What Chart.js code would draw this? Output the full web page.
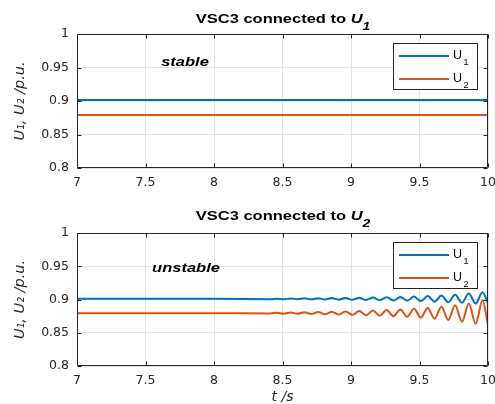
<!DOCTYPE html>
<html>
<head>
<meta charset="utf-8">
<script src="https://cdn.jsdelivr.net/npm/chart.js@4.4.1/dist/chart.umd.min.js"></script>
<style>
	html, body { margin: 0; padding: 0; background: #fff; }
	#page { position: relative; width: 495px; height: 404px; overflow: hidden; font-family: "Liberation Sans", Arial, sans-serif; color: #000; }
	.panel { position: absolute; left: 0; width: 495px; }
	.txt { position: absolute; white-space: nowrap; line-height: 1; }
	.title { font-weight: bold; font-size: 12.5px; transform: translateX(-50%) scaleX(1.32); }
	.title i { font-style: italic; }
	.title .sub { position: relative; top: 7px; font-size: 10.5px; font-style: italic; }
	.note { font-weight: bold; font-style: italic; font-size: 13px; transform: translateX(-50%) scaleX(1.27); }
	.legend { position: absolute; background: #fff; border: 1px solid #262626; box-sizing: border-box; }
	.legend .swatch { position: absolute; height: 2px; width: 50px; left: 5px; }
	.legend .lbl { position: absolute; font-size: 12.5px; line-height: 1; white-space: nowrap; color: #000; }
	.legend .lbl .sub { position: relative; top: 6px; font-size: 9px; margin-left: 1.5px; }
</style>
</head>
<body>
<div id="page">
	<div class="panel" style="top:0; height:200px;"><canvas id="chartTop"></canvas></div>
	<div class="panel" style="top:200px; height:204px;"><canvas id="chartBottom"></canvas></div>

	<div class="txt title" style="left:282.5px; top:12.7px;">VSC3 connected to <i>U</i><span class="sub">1</span></div>
	<div class="txt title" style="left:282.5px; top:209.9px;">VSC3 connected to <i>U</i><span class="sub">2</span></div>
	<div class="txt note" style="left:185px; top:55px;">stable</div>
	<div class="txt note" style="left:186px; top:260.5px;">unstable</div>
</div>

<script>
(() => {
	'use strict'

	// Axis ticks
	const xTicks = [7, 7.5, 8, 8.5, 9, 9.5, 10];
	const xTickLabels = ['7', '7.5', '8', '8.5', '9', '9.5', '10'];
	const yTicks = [0.8, 0.85, 0.9, 0.95, 1];
	const yTickLabels = ['0.8', '0.85', '0.9', '0.95', '1'];

	// Top panel: VSC3 connected to U1 (stable)
	const timeTop = [7, 10];
	const u1Top = [0.9015, 0.9015];
	const u2Top = [0.879, 0.879];

	// Bottom panel: VSC3 connected to U2 (unstable), peaks and troughs
	const timeBottom = [7, 8.0, 8.41, 8.46, 8.51, 8.56, 8.61, 8.66, 8.71, 8.76, 8.81, 8.86, 8.91, 8.96,
		9.01, 9.06, 9.11, 9.16, 9.21, 9.26, 9.31, 9.36, 9.41, 9.46, 9.51, 9.56, 9.61, 9.66, 9.71, 9.76,
		9.81, 9.86, 9.91, 9.96, 10];
	const u1Bottom = [0.901, 0.901, 0.9005, 0.9013, 0.9004, 0.9015, 0.9004, 0.9017, 0.9002, 0.9019, 0.9, 0.9021, 0.8998, 0.9024,
		0.8996, 0.9027, 0.8993, 0.903, 0.899, 0.9034, 0.8986, 0.9039, 0.8981, 0.9045, 0.8975, 0.9052, 0.8968, 0.906, 0.896, 0.907,
		0.895, 0.909, 0.894, 0.911, 0.894];
	const u2Bottom = [0.8795, 0.8795, 0.879, 0.8802, 0.8787, 0.8805, 0.8784, 0.8808, 0.8781, 0.8811, 0.8778, 0.8815, 0.8774, 0.882,
		0.877, 0.8826, 0.8764, 0.8833, 0.8757, 0.8841, 0.8749, 0.885, 0.874, 0.886, 0.8728, 0.8873, 0.8712, 0.889, 0.869, 0.8912,
		0.8665, 0.894, 0.8635, 0.899, 0.862];

	const seriesLabels = ['U_1', 'U_2'];
	const blueColor = '#0072BD';
	const orangeColor = '#D95319';
	const axisColor = '#262626';
	const gridColor = '#e2e2e2';

	const toPoints = (xs, ys) => xs.map((x, i) => ({ x: x, y: ys[i] }));

	// Axes box with inward tick marks on all four sides
	const boxPlugin = {
		id: 'boxTicks',
		afterDraw(chart) {
			const { ctx, chartArea: a, scales } = chart;
			const left = Math.round(a.left) + 0.5, right = Math.round(a.right) - 0.5;
			const top = Math.round(a.top) + 0.5, bottom = Math.round(a.bottom) - 0.5;
			ctx.save();
			ctx.strokeStyle = axisColor;
			ctx.lineWidth = 1;
			ctx.beginPath();
			scales.x.ticks.forEach(t => {
				const px = Math.round(scales.x.getPixelForValue(t.value)) + 0.5;
				ctx.moveTo(px, top); ctx.lineTo(px, top + 4);
				ctx.moveTo(px, bottom); ctx.lineTo(px, bottom - 4);
			});
			scales.y.ticks.forEach(t => {
				const py = Math.round(scales.y.getPixelForValue(t.value)) + 0.5;
				ctx.moveTo(left, py); ctx.lineTo(left + 4, py);
				ctx.moveTo(right, py); ctx.lineTo(right - 4, py);
			});
			ctx.rect(left, top, right - left, bottom - top);
			ctx.stroke();
			ctx.restore();
		}
	};

	function makeConfig(time, u1, u2, smooth, xTitle, padTop, xHeight) {
		const line = {
			borderWidth: 2,
			pointRadius: 0,
			fill: false,
			cubicInterpolationMode: smooth ? 'monotone' : 'default'
		};
		return {
			type: 'line',
			data: {
				datasets: [
					Object.assign({ label: seriesLabels[0], data: toPoints(time, u1), borderColor: blueColor }, line),
					Object.assign({ label: seriesLabels[1], data: toPoints(time, u2), borderColor: orangeColor }, line)
				]
			},
			options: {
				responsive: true,
				maintainAspectRatio: false,
				animation: false,
				devicePixelRatio: 1,
				layout: { padding: { top: padTop, right: 7, left: 0, bottom: 0 } },
				plugins: {
					legend: { display: false },
					tooltip: { enabled: false },
					title: { display: false }
				},
				scales: {
					x: {
						type: 'linear',
						min: 7,
						max: 10,
						afterBuildTicks: s => { s.ticks = xTicks.map(v => ({ value: v })); },
						afterFit: s => { s.height = xHeight; s.paddingLeft = 0; s.paddingRight = 0; },
						ticks: {
							callback: (v, i) => xTickLabels[i],
							autoSkip: false,
							maxRotation: 0,
							padding: 7,
							color: axisColor,
							font: { family: 'DejaVu Sans', size: 12.5 }
						},
						grid: { color: gridColor, drawTicks: false },
						border: { display: false },
						title: {
							display: !!xTitle,
							text: xTitle || '',
							color: axisColor,
							font: { family: 'DejaVu Sans', size: 14, style: 'italic' },
							padding: { top: 0, bottom: -2 }
						}
					},
					y: {
						type: 'linear',
						min: 0.8,
						max: 1,
						afterBuildTicks: s => { s.ticks = yTicks.map(v => ({ value: v })); },
						afterFit: s => { s.width = 77; s.paddingTop = 0; s.paddingBottom = 0; },
						ticks: {
							callback: (v, i) => yTickLabels[i],
							autoSkip: false,
							padding: 8,
							color: axisColor,
							font: { family: 'DejaVu Sans', size: 12.5 }
						},
						grid: { color: gridColor, drawTicks: false },
						border: { display: false },
						title: {
							display: true,
							text: 'U\u2081, U\u2082 /p.u.',
							color: axisColor,
							font: { family: 'DejaVu Sans', size: 14.5, style: 'italic' },
							padding: { top: 12, bottom: 0 }
						}
					}
				}
			},
			plugins: [boxPlugin]
		};
	}

	// Legend box inside the plot, top right
	function addLegend(chart, panelTop) {
		const a = chart.chartArea;
		const box = document.createElement('div');
		box.className = 'legend';
		box.style.left = (a.right - 95) + 'px';
		box.style.top = (panelTop + a.top + 9) + 'px';
		box.style.width = '85px';
		box.style.height = '47px';
		chart.data.datasets.forEach((ds, i) => {
			const parts = ds.label.split('_');
			const sw = document.createElement('div');
			sw.className = 'swatch';
			sw.style.background = ds.borderColor;
			sw.style.top = (11 + i * 23.3) + 'px';
			box.appendChild(sw);
			const lbl = document.createElement('div');
			lbl.className = 'lbl';
			lbl.style.left = '59px';
			lbl.style.top = (4.5 + i * 23) + 'px';
			lbl.innerHTML = parts[0] + '<span class="sub">' + parts[1] + '</span>';
			box.appendChild(lbl);
		});
		document.getElementById('page').appendChild(box);
	}

	const chartTop = new Chart(document.getElementById('chartTop'),
		makeConfig(timeTop, u1Top, u2Top, false, '', 34, 32));
	const chartBottom = new Chart(document.getElementById('chartBottom'),
		makeConfig(timeBottom, u1Bottom, u2Bottom, true, 't /s', 33, 38));

	addLegend(chartTop, 0);
	addLegend(chartBottom, 200);
})()
</script>
</body>
</html>
